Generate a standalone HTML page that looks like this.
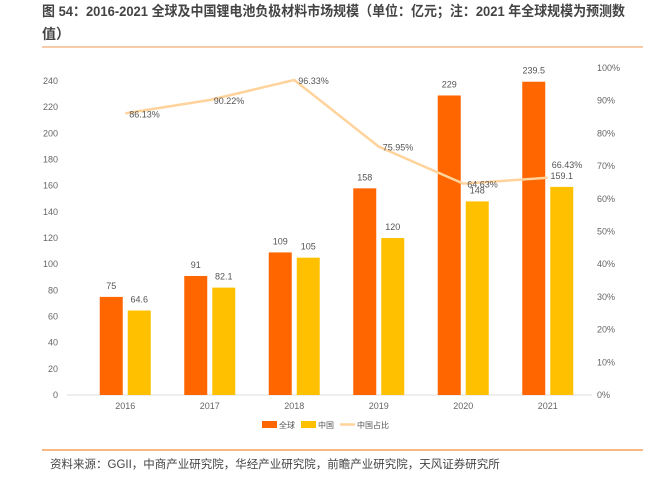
<!DOCTYPE html>
<html><head><meta charset="utf-8">
<style>
body{margin:0;background:#fff;width:651px;height:476px;overflow:hidden;font-family:"Liberation Sans","Noto Sans CJK SC",sans-serif;}
svg text{font-family:"Liberation Sans","Noto Sans CJK SC",sans-serif;}
</style></head><body>
<svg id="c" width="651" height="476">
<text x="42" y="16" font-size="14" font-weight="bold" fill="#444" textLength="583" lengthAdjust="spacingAndGlyphs">图 54：2016-2021 全球及中国锂电池负极材料市场规模（单位：亿元；注：2021 年全球规模为预测数</text>
<text x="42" y="39" font-size="14" font-weight="bold" fill="#444">值）</text>
<line x1="42" y1="47" x2="643" y2="47" stroke="#f6b98a" stroke-width="1.5"/>
<line x1="42" y1="450" x2="643" y2="450" stroke="#f6a05a" stroke-width="1.5"/>
<text x="50" y="468" font-size="11.5" fill="#444">资料来源：GGII，中商产业研究院，华经产业研究院，前瞻产业研究院，天风证券研究所</text>
<g id="plot"></g>
</svg>
<script>
const categories=["2016","2017","2018","2019","2020","2021"];
const globalVals=[75,91,109,158,229,239.5];
const chinaVals=[64.6,82.1,105,120,148,159.1];
const shareVals=[86.13,90.22,96.33,75.95,64.63,66.43];
const leftTicks=[0,20,40,60,80,100,120,140,160,180,200,220,240];
const rightTicks=[0,10,20,30,40,50,60,70,80,90,100];
const NS="http://www.w3.org/2000/svg";
const g=document.getElementById('plot');
const y0=395,yTop=68,leftMax=250;
const yL=v=>y0-v/leftMax*(y0-yTop);
const yR=v=>y0-v/100*(y0-yTop);
const step=84.5,x0=83;
const xC=i=>x0+step*(i+0.5);
function mk(t,a){const e=document.createElementNS(NS,t);for(const k in a)e.setAttribute(k,a[k]);g.appendChild(e);return e;}
function tx(x,y,s,anchor,size,fill){const e=mk('text',{x:x,y:y,'text-anchor':anchor,'font-size':size,fill:fill});e.textContent=s;return e;}
let ax=mk('line',{x1:67,y1:y0,x2:592,y2:y0,stroke:'#ddd'});


leftTicks.forEach(v=>{const t=tx(58,yL(v)+3,String(v),'end',9,'#666');

});
rightTicks.forEach(v=>{const t=tx(597,yR(v)+3,v+'%','start',9,'#666');

});
categories.forEach((c,i)=>{
 const t=tx(xC(i),409,c,'middle',9,'#666');
 
 
 const bw=23;
 const gx=xC(i)-14-bw/2, cx=xC(i)+14-bw/2;
 const b1=mk('rect',{x:gx,y:yL(globalVals[i]),width:bw,height:y0-yL(globalVals[i]),fill:'#ff6600'});
 
 
 const b2=mk('rect',{x:cx,y:yL(chinaVals[i]),width:bw,height:y0-yL(chinaVals[i]),fill:'#ffc000'});
 
 
 const l1=tx(gx+bw/2,yL(globalVals[i])-8,String(globalVals[i]),'middle',9,'#555');
 
 
 const l2=tx(cx+bw/2,yL(chinaVals[i])-8,String(chinaVals[i]),'middle',9,'#555');
 
 
});
const pts=shareVals.map((v,i)=>xC(i)+','+yR(v)).join(' ');
const pl=mk('polyline',{points:pts,fill:'none',stroke:'#ffd39b','stroke-width':2.5});


shareVals.forEach((v,i)=>{
 const dy=(i===shareVals.length-1)?-10:4;
 const t=tx(xC(i)+4,yR(v)+dy,v.toFixed(2)+'%','start',9,'#555');
 
 });
const lg=[['#ff6600','全球','rect'],['#ffc000','中国','rect'],['#ffd39b','中国占比','line']];
let lx=262;
lg.forEach(([col,name,type])=>{
 let m;
 if(type==='rect')m=mk('rect',{x:lx,y:421,width:15,height:7,fill:col});
 else m=mk('line',{x1:lx,y1:424.5,x2:lx+15,y2:424.5,stroke:col,'stroke-width':2.5});
 
 
 const t=tx(lx+17,428,name,'start',8,'#555');
 
 
 lx+=17+name.length*9+4;
});
</script>
</body></html>
